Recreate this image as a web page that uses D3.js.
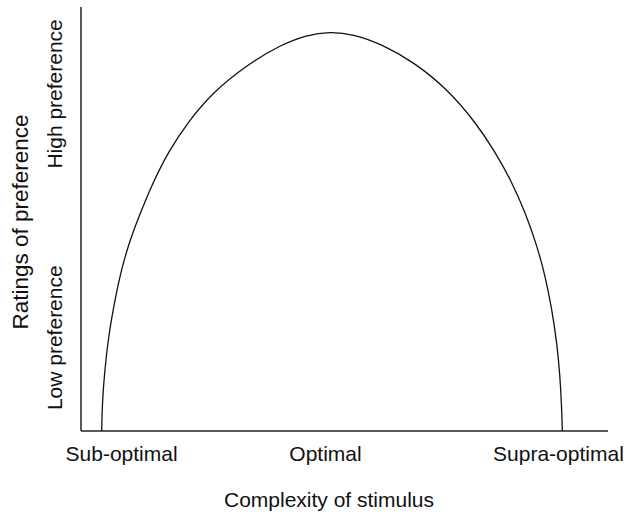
<!DOCTYPE html>
<html>
<head>
<meta charset="utf-8">
<script src="https://cdn.jsdelivr.net/npm/d3@7"></script>
<style>
  html, body { margin: 0; padding: 0; background: #fff; }
  svg { display: block; }
  text { font-family: "Liberation Sans", Arial, Helvetica, sans-serif; fill: #111; }
</style>
</head>
<body>
<svg id="chart" width="628" height="517"></svg>
<script>
// Complexity (x, 0-100 abstract) and preference rating (y, 0-100 abstract)
const complexity = [3.93, 4.04, 4.55, 5.18, 6.13, 7.40, 8.98, 10.87, 13.42, 16.57, 20.36, 25.11, 31.44, 37.76, 42.83, 47.25, 51.67, 56.74, 63.06, 69.39, 74.76, 78.56, 81.73, 84.25, 86.47, 88.05, 89.32, 90.27, 90.89, 91.21, 91.33];
const preference = [0, 6.9, 14.8, 21.9, 28.9, 36.8, 43.9, 50.2, 58.0, 65.9, 73.0, 80.0, 86.3, 91.0, 93.4, 94.2, 93.6, 91.4, 87.1, 80.8, 73.0, 65.9, 58.8, 51.7, 43.9, 36.8, 28.9, 21.1, 13.2, 5.4, 0];
const xTickValues = [7.6, 46.3, 90.5];
const xTickLabels = ["Sub-optimal", "Optimal", "Supra-optimal"];
const yLabels = ["Low preference", "High preference"];
const yLabelPositions = [22, 79.5];
const xTitle = "Complexity of stimulus";
const yTitle = "Ratings of preference";

const svg = d3.select("#chart");
const x = d3.scaleLinear().domain([0, 100]).range([81, 608]);
const y = d3.scaleLinear().domain([0, 100]).range([431, 7]);

// axes lines
svg.append("line").attr("x1", x(0)).attr("x2", x(0)).attr("y1", y(0)).attr("y2", y(100))
  .attr("stroke", "#222").attr("stroke-width", 1.5);
svg.append("line").attr("x1", x(0)).attr("x2", x(100)).attr("y1", y(0)).attr("y2", y(0))
  .attr("stroke", "#222").attr("stroke-width", 1.5);

// x tick labels via axis
const xAxis = d3.axisBottom(x).tickValues(xTickValues)
  .tickFormat((d, i) => xTickLabels[i]).tickSize(0).tickPadding(0);
const gx = svg.append("g").attr("transform", `translate(0,${y(0)})`).call(xAxis);
gx.select(".domain").remove();
gx.selectAll("text").attr("dy", null).attr("y", 30)
  .style("font-size", "21px").style("font-family", '"Liberation Sans", Arial, sans-serif').attr("fill", "#111");

// y labels (rotated)
const gy = svg.append("g");
yLabels.forEach((t, i) => {
  gy.append("text")
    .attr("transform", `translate(62,${y(yLabelPositions[i])}) rotate(-90)`)
    .attr("text-anchor", "middle")
    .style("font-size", "21px")
    .text(t);
});

// titles
svg.append("text").attr("x", 329).attr("y", 507).attr("text-anchor", "middle")
  .style("font-size", "21px").text(xTitle);
svg.append("text").attr("transform", `translate(28,222) rotate(-90)`)
  .attr("text-anchor", "middle").style("font-size", "22.5px").text(yTitle);

// curve
const pts = complexity.map((c, i) => [c, preference[i]]);
const line = d3.line().x(d => x(d[0])).y(d => y(d[1])).curve(d3.curveBasis);
svg.append("path").datum(pts).attr("d", line)
  .attr("fill", "none").attr("stroke", "#111").attr("stroke-width", 1.3);
</script>
</body>
</html>
